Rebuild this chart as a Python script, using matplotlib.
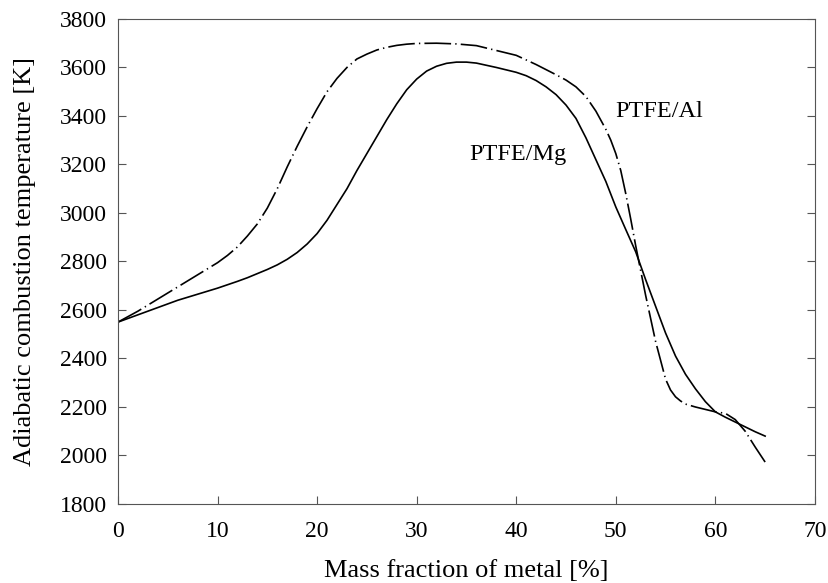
import numpy as np
import matplotlib
matplotlib.use("Agg")
import matplotlib.pyplot as plt

plt.rcParams['font.family'] = ['Liberation Serif', 'DejaVu Serif']

# PTFE/Mg (solid)
mg_x = [0, 2, 4, 6, 8, 10, 12, 13, 14, 15, 16, 17, 18, 19, 20, 21, 22, 23, 24, 25,
        26, 27, 28, 29, 30, 31, 32, 33, 34, 35, 36, 38, 40, 41, 42, 43, 44, 45, 46,
        47, 48, 49, 50, 51, 52, 53, 54, 55, 56, 57, 58, 59, 60, 61, 62, 63, 64, 65]
mg_t = [2550, 2580, 2610, 2640, 2665, 2690, 2718, 2733, 2750, 2767, 2786, 2809, 2837,
        2872, 2915, 2970, 3035, 3100, 3175, 3245, 3315, 3385, 3450, 3508, 3552, 3585,
        3605, 3617, 3622, 3622, 3618, 3600, 3580, 3566, 3546, 3520, 3488, 3445, 3390,
        3310, 3220, 3130, 3025, 2932, 2840, 2725, 2615, 2505, 2410, 2335, 2275, 2222,
        2180, 2158, 2138, 2118, 2098, 2080]

# PTFE/Al (dash-dot)
al_x = [0, 2, 4, 6, 8, 10, 11, 12, 13, 14, 15, 16, 17, 18, 19, 20, 21, 22, 23, 24,
        25, 26, 27, 28, 29, 30, 32, 34, 36, 38, 40, 42, 44, 45, 46, 47, 48, 49, 49.5,
        50, 50.5, 51, 51.5, 52, 53, 54, 55, 55.5, 56, 56.5, 57, 58, 59, 60, 61, 62,
        63, 64, 65]
al_t = [2550, 2595, 2645, 2695, 2745, 2795, 2825, 2860, 2905, 2955, 3020, 3100, 3190,
        3275, 3355, 3430, 3500, 3555, 3600, 3635, 3655, 3672, 3683, 3691, 3696, 3699,
        3700, 3697, 3690, 3670, 3650, 3612, 3570, 3548, 3520, 3480, 3420, 3345, 3300,
        3245, 3175, 3080, 2975, 2865, 2660, 2470, 2315, 2270, 2242, 2225, 2212, 2200,
        2190, 2180, 2174, 2148, 2100, 2035, 1973]

fig = plt.figure(figsize=(8.29, 5.83), dpi=100)
ax = fig.add_axes([0.1423, 0.1355, 0.8407, 0.832])

ax.plot(mg_x, mg_t, color='black', lw=1.2)
ax.plot(al_x, al_t, color='black', lw=1.2, dashes=(16, 2.5, 0.8, 2.5))

ax.text(54.4, 3420, 'PTFE/Al', fontsize=17.5, ha='center', va='center')
ax.text(40.2, 3240, 'PTFE/Mg', fontsize=17.5, ha='center', va='center')

ax.set_xlim(0, 70)
ax.set_ylim(1800, 3800)
ax.set_xticks(range(0, 71, 10))
ax.set_yticks(range(1800, 3801, 200))
ax.tick_params(direction='in', right=True, top=False, labelsize=17, length=6,
               color='#555555')
ax.tick_params(axis='x', pad=12)
ax.tick_params(axis='y', pad=8)
for s in ax.spines.values():
    s.set_color('#555555')
ax.set_xlabel('Mass fraction of metal [%]', fontsize=19, labelpad=13)
ax.set_ylabel('Adiabatic combustion temperature [K]', fontsize=19, labelpad=17)

fig.savefig('out.png', dpi=100)
